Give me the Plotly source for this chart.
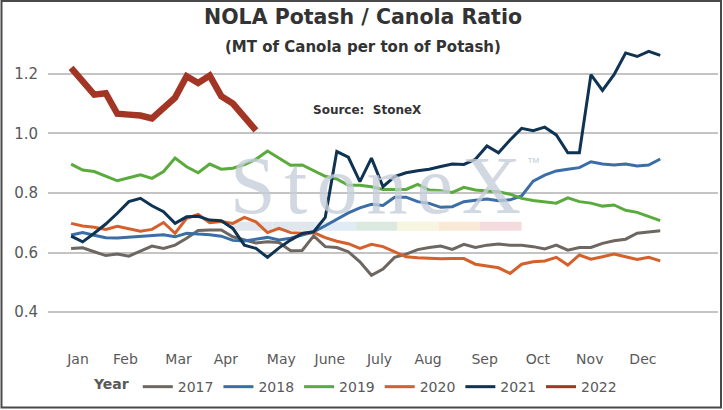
import plotly.graph_objects as go

# weekly ratio, MT of canola per ton of potash
weeks = list(range(52))

y2017 = [0.614, 0.616, 0.603, 0.590, 0.595, 0.588, 0.605, 0.622, 0.614, 0.625,
         0.648, 0.674, 0.676, 0.676, 0.653, 0.642, 0.632, 0.636, 0.634, 0.606,
         0.607, 0.656, 0.620, 0.617, 0.603, 0.569, 0.524, 0.545, 0.584, 0.595,
         0.610, 0.617, 0.622, 0.611, 0.628, 0.617, 0.625, 0.629, 0.625, 0.625,
         0.620, 0.612, 0.625, 0.608, 0.617, 0.617, 0.631, 0.640, 0.645, 0.665,
         0.670, 0.673]
y2018 = [0.659, 0.667, 0.658, 0.650, 0.649, 0.652, 0.655, 0.659, 0.660, 0.653,
         0.665, 0.662, 0.660, 0.655, 0.641, 0.639, 0.645, 0.651, 0.642, 0.648,
         0.659, 0.670, 0.690, 0.712, 0.733, 0.750, 0.762, 0.758, 0.786, 0.786,
         0.771, 0.765, 0.752, 0.754, 0.771, 0.776, 0.780, 0.774, 0.777, 0.790,
         0.840, 0.860, 0.874, 0.880, 0.885, 0.905, 0.897, 0.894, 0.897, 0.891,
         0.894, 0.914]
y2019 = [0.897, 0.877, 0.872, 0.857, 0.841, 0.851, 0.861, 0.849, 0.872, 0.917,
         0.888, 0.868, 0.897, 0.880, 0.883, 0.895, 0.913, 0.941, 0.917, 0.893,
         0.894, 0.874, 0.856, 0.847, 0.826, 0.826, 0.821, 0.812, 0.812, 0.812,
         0.829, 0.810, 0.808, 0.802, 0.819, 0.810, 0.807, 0.804, 0.796, 0.782,
         0.775, 0.770, 0.766, 0.784, 0.771, 0.766, 0.756, 0.760, 0.742, 0.735,
         0.722, 0.707]
y2020 = [0.698, 0.689, 0.685, 0.678, 0.688, 0.681, 0.672, 0.678, 0.701, 0.665,
         0.715, 0.728, 0.700, 0.704, 0.698, 0.718, 0.703, 0.667, 0.681, 0.667,
         0.665, 0.667, 0.650, 0.638, 0.630, 0.614, 0.628, 0.620, 0.603, 0.586,
         0.583, 0.580, 0.579, 0.580, 0.580, 0.561, 0.555, 0.549, 0.530, 0.561,
         0.569, 0.572, 0.584, 0.558, 0.592, 0.578, 0.586, 0.595, 0.586, 0.577,
         0.584, 0.572]
y2021 = [0.655, 0.636, 0.665, 0.696, 0.732, 0.771, 0.782, 0.757, 0.737, 0.698,
         0.720, 0.722, 0.709, 0.707, 0.681, 0.625, 0.614, 0.584, 0.616, 0.642,
         0.664, 0.670, 0.718, 0.939, 0.920, 0.838, 0.917, 0.821, 0.855, 0.868,
         0.875, 0.880, 0.889, 0.897, 0.896, 0.913, 0.958, 0.935, 0.978, 1.017,
         1.009, 1.021, 0.995, 0.935, 0.935, 1.197, 1.144, 1.197, 1.270, 1.258,
         1.275, 1.262]
y2022 = [1.220, 1.175, 1.130, 1.135, 1.066, 1.063, 1.060, 1.050, 1.082, 1.120,
         1.192, 1.169, 1.194, 1.125, 1.100, 1.055, 1.010]

month_pos = [0.6, 4.7, 9.3, 13.4, 18.2, 22.4, 26.7, 30.9, 35.8, 40.4, 44.9, 49.5]
month_lbl = ['Jan', 'Feb', 'Mar', 'Apr', 'May', 'June', 'July', 'Aug', 'Sep',
             'Oct', 'Nov', 'Dec']

years = ['2017', '2018', '2019', '2020', '2021', '2022']
series = [y2017, y2018, y2019, y2020, y2021, y2022]
colors = ['#6E6761', '#3B6EA6', '#5BAA3D', '#D4602B', '#0F3352', '#A33525']
widths = [3, 3, 3, 3, 3, 6.5]


def px_x(p):
    # pixel column -> paper x
    return (p - 48) / 670


def px_y(p):
    # pixel row -> paper y
    return (342 - p) / 297.5


fig = go.Figure()

# StoneX watermark behind the lines
fig.add_annotation(x=px_x(375), y=px_y(186), xref='paper', yref='paper',
                   text='<span style="letter-spacing:9px">Stone</span>X',
                   showarrow=False, xanchor='center', yanchor='middle',
                   font=dict(family='Liberation Serif', size=82, color='#C6CFDA'),
                   opacity=0.8)
fig.add_annotation(x=px_x(533), y=px_y(163), xref='paper', yref='paper', text='™',
                   showarrow=False, xanchor='center', yanchor='middle',
                   font=dict(family='Liberation Sans', size=13, color='#C8D0DB'))
bar_cols = ['#DDE3EA', '#DCE3EA', '#DDEAF4', '#D7E7DE', '#F6F4DD', '#F9E7D1', '#F3D7DA']
for i, c in enumerate(bar_cols):
    x0 = 231 + i * 41.5
    fig.add_shape(type='rect', xref='paper', yref='paper', x0=px_x(x0), x1=px_x(x0 + 41.5),
                  y0=px_y(231), y1=px_y(222),
                  fillcolor=c, line=dict(width=0), layer='below', opacity=0.9)

for yr, vals, col, w in zip(years, series, colors, widths):
    fig.add_trace(go.Scatter(x=weeks[:len(vals)], y=vals, name=yr, mode='lines',
                             legendgroup=yr, showlegend=False,
                             line=dict(color=col, width=w)))
# legend samples, all drawn thin like the original
for yr, col in zip(years, colors):
    fig.add_trace(go.Scatter(x=[None], y=[None], name=yr, mode='lines',
                             legendgroup=yr, line=dict(color=col, width=3)))

fig.add_annotation(x=px_x(367), y=px_y(110), xref='paper', yref='paper',
                   text='<b>Source:  StoneX</b>', showarrow=False,
                   xanchor='center', yanchor='middle',
                   font=dict(family='DejaVu Sans', size=12, color='#333333'))
fig.add_annotation(x=px_x(363), y=px_y(47), xref='paper', yref='paper',
                   text='<b>(MT of Canola per ton of Potash)</b>', showarrow=False,
                   xanchor='center', yanchor='middle',
                   font=dict(family='DejaVu Sans', size=15, color='#333333'))

# outer frame
fig.add_shape(type='rect', xref='paper', yref='paper',
              x0=px_x(1.5), x1=px_x(721), y0=px_y(407.5), y1=px_y(1.5),
              line=dict(color='#4A4A4A', width=2))

fig.update_layout(
    width=723, height=410,
    margin=dict(l=48, r=5, t=44, b=68),
    paper_bgcolor='white', plot_bgcolor='white',
    title=dict(text='<b>NOLA Potash / Canola Ratio</b>', x=px_x(363), xref='paper',
               xanchor='center', y=1 - 17 / 410, yanchor='middle',
               font=dict(family='DejaVu Sans', size=20.5, color='#333333')),
    font=dict(family='DejaVu Sans', color='#595959'),
    showlegend=True,
    legend=dict(orientation='h', x=px_x(357), xanchor='center',
                y=px_y(387), yanchor='middle',
                title=dict(text='<b>Year</b>', font=dict(size=14, color='#595959')),
                font=dict(size=14, color='#595959'), bgcolor='rgba(0,0,0,0)'),
)
fig.update_xaxes(range=[-2, 56], tickvals=month_pos, ticktext=month_lbl, showgrid=False,
                 zeroline=False, showline=False, ticks='outside', ticklen=4,
                 tickcolor='rgba(0,0,0,0)', tickfont=dict(size=14, color='#595959'))
fig.update_yaxes(range=[0.3, 1.3], tickvals=[0.4, 0.6, 0.8, 1.0, 1.2],
                 ticktext=['0.4', '0.6', '0.8', '1.0', '1.2'], showgrid=True,
                 gridcolor='#C4C4C4', gridwidth=1.5, zeroline=False, showline=False,
                 ticks='outside', ticklen=6, tickcolor='rgba(0,0,0,0)',
                 tickfont=dict(size=15, color='#595959'))

fig.write_html('out.html', config={'displayModeBar': False},
               post_script="document.body.style.margin='0';")
